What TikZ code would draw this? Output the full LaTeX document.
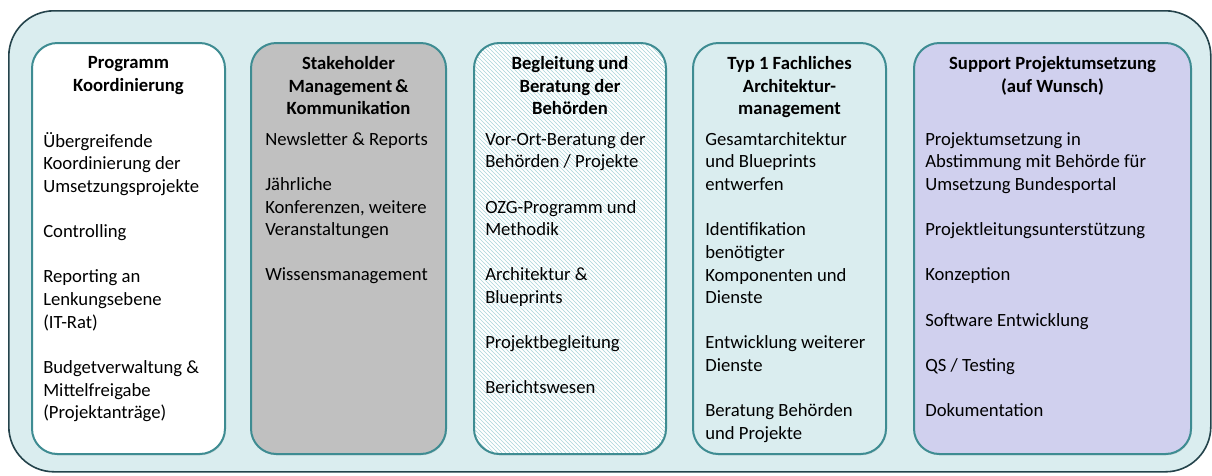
\documentclass[tikz,border=0pt]{standalone}
\usepackage{fontspec}
\setmainfont{Carlito}
\usetikzlibrary{positioning, calc, patterns, shadows}
\definecolor{bgblue}{HTML}{DAEDEF}
\definecolor{rimdark}{HTML}{24434B}
\definecolor{tealline}{HTML}{3E8C92}
\definecolor{boxgray}{HTML}{C0C0C0}
\definecolor{lavender}{HTML}{D0D0EE}
\definecolor{hatchblue}{HTML}{AAD5DA}
\newcommand{\gapline}{\\[16.875pt]}
\tikzset{
  frame/.style={draw=rimdark, line width=1.2pt, fill=bgblue, rounded corners=34pt,
    inner sep=0pt, anchor=north west},
  col/.style={draw=tealline, line width=1.5pt, rounded corners=19pt, inner sep=0pt,
    minimum height=308.25pt, anchor=north west,
    drop shadow={opacity=0.2, shadow xshift=0.6pt, shadow yshift=-1pt}},
  head/.style={font=\bfseries\fontsize{14}{16.875}\selectfont, align=center,
    anchor=north, inner sep=0pt, execute at begin node=\strut},
  body/.style={font=\fontsize{14}{17}\selectfont, align=left,
    anchor=north west, inner sep=0pt, execute at begin node=\strut},
}

\begin{document}
\begin{tikzpicture}[x=0.75pt, y=-0.75pt]
\useasboundingbox (0,0) rectangle (1212,475);
\node[frame, minimum width=901.5pt, minimum height=345.75pt] (frame) at (8,10) {};

% Spalten
\node[col, fill=white, minimum width=144.75pt] (c1) at (31,42) {};
\node[col, fill=boxgray, minimum width=146.25pt] (c2) at (250,42) {};
\node[col, preaction={fill=white}, pattern=north west lines, pattern color=hatchblue,
  minimum width=144pt] (c3) at (473,42) {};
\node[col, fill=bgblue, minimum width=144.75pt] (c4) at (692,42) {};
\node[col, fill=lavender, minimum width=207.75pt] (c5) at (913,42) {};

% Überschriften
\node[head] (h1) at ($(c1.north)+(0,14.5)$) {Programm\\Koordinierung};
\node[head] (h2) at ($(c2.north)+(0,14.5)$) {Stakeholder\\Management\,\&\\Kommunikation};
\node[head] (h3) at ($(c3.north)+(0,14.5)$) {Begleitung und\\Beratung der\\Behörden};
\node[head] (h4) at ($(c4.north)+(0,14.5)$) {Typ 1 Fachliches\\Architektur-\\management};
\node[head] (h5) at ($(c5.north)+(0,14.5)$) {Support Projektumsetzung\\(auf Wunsch)};

% Aufgaben
\node[body] (t1) at ($(c1.north west)+(12,90)$)
  {Übergreifende\\Koordinierung der\\Umsetzungsprojekte\gapline
   Controlling\gapline
   Reporting an\\Lenkungsebene\\(IT-Rat)\gapline
   Budgetverwaltung \&\\Mittelfreigabe\\(Projektanträge)};
\node[body] (t2) at ($(c2.north west)+(15,90)$)
  {Newsletter \& Reports\gapline
   Jährliche\\Konferenzen, weitere\\Veranstaltungen\gapline
   Wissensmanagement};
\node[body] (t3) at ($(c3.north west)+(12,90)$)
  {Vor-Ort-Beratung der\\Behörden / Projekte\gapline
   OZG-Programm und\\Methodik\gapline
   Architektur \&\\Blueprints\gapline
   Projektbegleitung\gapline
   Berichtswesen};
\node[body] (t4) at ($(c4.north west)+(13,90)$)
  {Gesamtarchitektur\\und Blueprints\\entwerfen\gapline
   Identifikation\\benötigter\\Komponenten und\\Dienste\gapline
   Entwicklung weiterer\\Dienste\gapline
   Beratung Behörden\\und Projekte};
\node[body] (t5) at ($(c5.north west)+(12,90)$)
  {Projektumsetzung in\\Abstimmung mit Behörde für\\Umsetzung Bundesportal\gapline
   Projektleitungsunterstützung\gapline
   Konzeption\gapline
   Software Entwicklung\gapline
   QS / Testing\gapline
   Dokumentation};

\end{tikzpicture}
\end{document}
